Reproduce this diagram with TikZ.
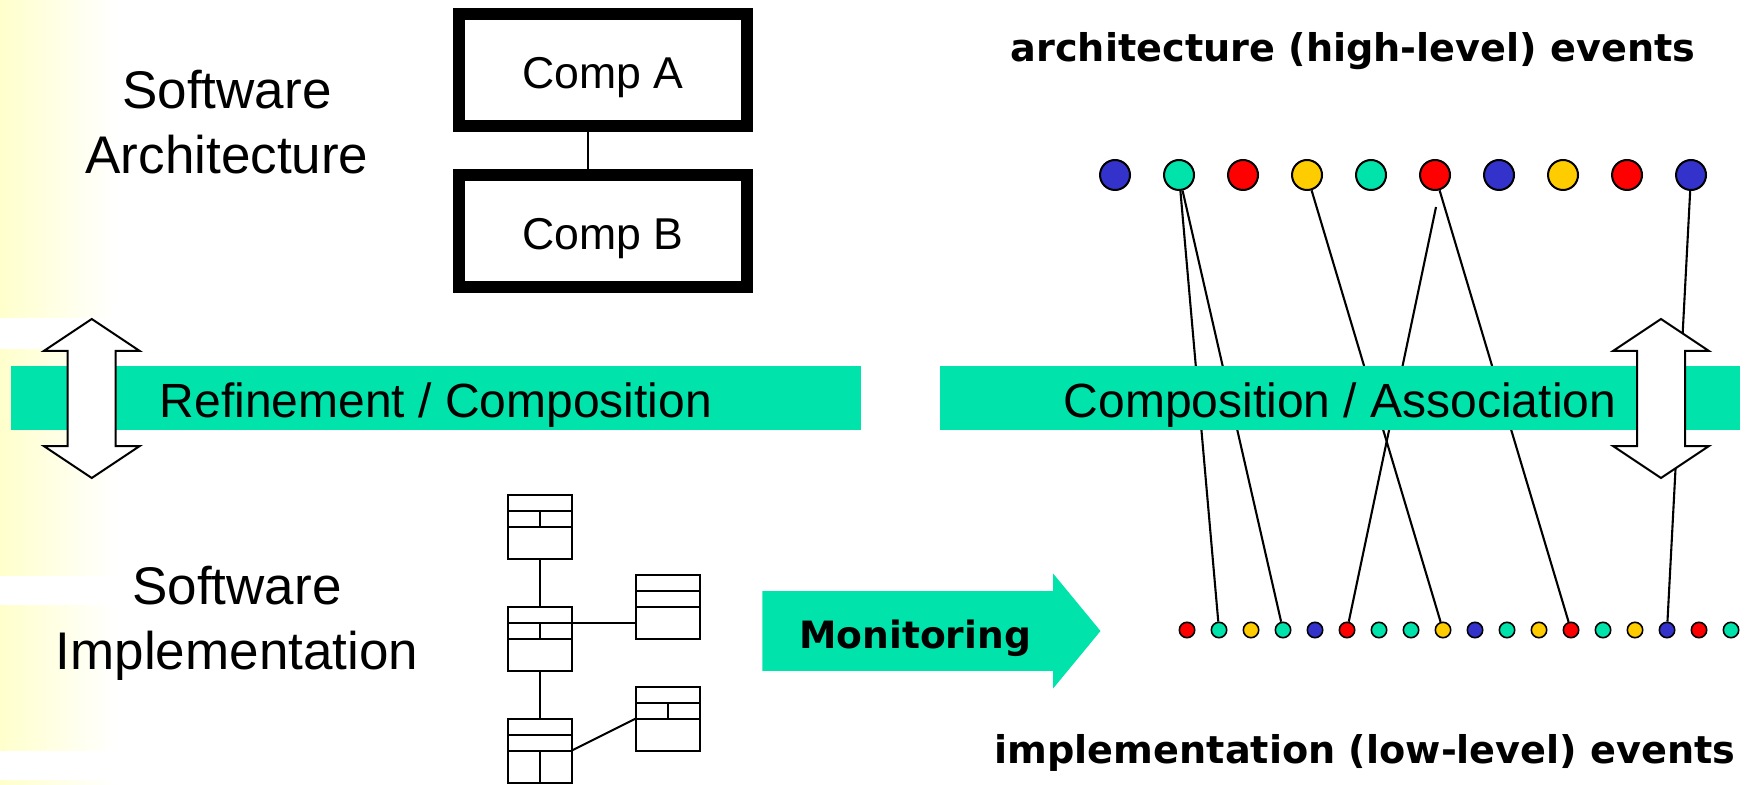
\documentclass[tikz,border=0pt]{standalone}
\usepackage{fontspec}
\setmainfont{Liberation Sans}
\newfontfamily\evfont{DejaVu Sans}
\usetikzlibrary{shapes,arrows,positioning}
\definecolor{evgreen}{RGB}{0,227,170}
\definecolor{evblue}{RGB}{51,51,204}
\definecolor{evred}{RGB}{255,0,0}
\definecolor{evyellow}{RGB}{255,204,0}
\definecolor{stripyellow}{RGB}{255,255,204}
\tikzstyle{comp} = [rectangle, draw, line width=6pt, minimum width=144pt, minimum height=56pt, text height=18.5pt, text depth=0pt, font=\fontsize{22.3}{26}\selectfont]
\tikzstyle{bar} = [rectangle, fill=evgreen, minimum height=32pt, inner ysep=0pt, text height=26pt, text depth=6pt, font=\fontsize{24}{28}\selectfont]
\tikzstyle{cls} = [rectangle, draw, line width=1pt, minimum size=32pt, inner sep=0pt, outer sep=0pt]
\tikzstyle{hev} = [circle, draw, line width=1pt, minimum size=15pt, inner sep=0pt]
\tikzstyle{lev} = [circle, draw, line width=0.8pt, minimum size=7.7pt, inner sep=0pt]
\tikzstyle{line} = [draw, line width=1.05pt]
\tikzstyle{side} = [align=center, font=\fontsize{26.5}{32.5}\selectfont]
\tikzstyle{evtext} = [font=\evfont\bfseries\fontsize{19.1}{22}\selectfont]
\tikzstyle{monarrow} = [single arrow, fill=evgreen, minimum height=169pt, single arrow head extend=8.75pt, single arrow tip angle=101, inner xsep=15pt, inner ysep=0pt, text height=28.5pt, text depth=11pt, font=\evfont\bfseries\fontsize{18.8}{22}\selectfont]

\begin{document}
\begin{tikzpicture}[x=0.5pt, y=-0.5pt, node distance=24pt]
	\tikzset{updown/.pic={\draw[fill=white, line width=1pt] (0,-79.5) -- (48,-47.5) -- (24,-47.5) -- (24,47.5) -- (48,47.5) -- (0,79.5) -- (-48,47.5) -- (-24,47.5) -- (-24,-47.5) -- (-48,-47.5) -- cycle;}}
	\useasboundingbox (0,0) rectangle (1748,785);
	% left background strips
	\foreach \ya/\yb in {0/318, 350/575, 605/750, 780/785}
		\shade[left color=stripyellow, right color=white] (0,\ya) rectangle (115,\yb);
	% events
	\foreach \c [count=\i] in {evblue,evgreen,evred,evyellow,evgreen,evred,evblue,evyellow,evred,evblue}
		\node [hev, fill=\c] (h\i) at ({1115+(\i-1)*64},175) {};
	\foreach \c [count=\i] in {evred,evgreen,evyellow,evgreen,evblue,evred,evgreen,evgreen,evyellow,evblue,evgreen,evyellow,evred,evgreen,evyellow,evblue,evred,evgreen}
		\node [lev, fill=\c] (l\i) at ({1187+(\i-1)*32},630) {};
	\coordinate (r6top) at (1436,207);
	\path [line] (h2) -- (l2);
	\path [line] (h2) -- (l4);
	\path [line] (h4) -- (l9);
	\path [line] (h6) -- (l13);
	\path [line] (h10) -- (l16);
	\path [line] (l6) -- (r6top);
	% bars
	\node [bar, minimum width=425pt] (refbar) at (436,398) {Refinement / Composition};
	\node [bar, minimum width=400pt] (assocbar) at (1340,398) {Composition / Association};
	\pic at (91.7,398.5) {updown};
	\pic at (1661,398.5) {updown};
	% architecture
	\node [side, anchor=base] (swarch) at (227,174) {Software\\Architecture};
	\node [comp] (compa) at (603,70) {Comp A};
	\node [comp, below=18.5pt of compa] (compb) {Comp B};
	\draw [line width=1pt] ([xshift=-7.5pt]compa.south) -- ([xshift=-7.5pt]compb.north);
	% implementation
	\node [side, anchor=base] (swimpl) at (237,669) {Software\\Implementation};
	\node [cls] (c2) at (539.5,638.7) {};
	\node [cls, above=of c2] (c1) {};
	\node [cls, below=of c2] (c3) {};
	\node [cls, right=32pt of c2, yshift=16pt] (c4) {};
	\node [cls, below=of c4] (c5) {};
	\foreach \n in {c1,c2,c3,c4,c5}
		\draw [line width=1pt] ([yshift=8pt]\n.west) -- ([yshift=8pt]\n.east) (\n.west) -- (\n.east);
	\foreach \n in {c1,c2,c5}
		\draw [line width=1pt] ([yshift=8pt]\n.center) -- (\n.center);
	\draw [line width=1pt] (c3.center) -- (c3.south);
	\draw [line width=1pt] (c1) -- (c2) -- (c3);
	\draw [line width=1pt] ([yshift=8pt]c2.east) -- ([yshift=8pt]c2.east -| c4.west);
	\draw [line width=1pt] (c3.east) -- (c5.west);
	% monitoring
	\node [monarrow, anchor=tip] (monitor) at (1101,631) {Monitoring};
	\node [evtext, anchor=base] (hlabel) at (1353,62) {architecture (high-level) events};
	\node [evtext, anchor=base] (llabel) at (1365,763) {implementation (low-level) events};
\end{tikzpicture}
\end{document}
